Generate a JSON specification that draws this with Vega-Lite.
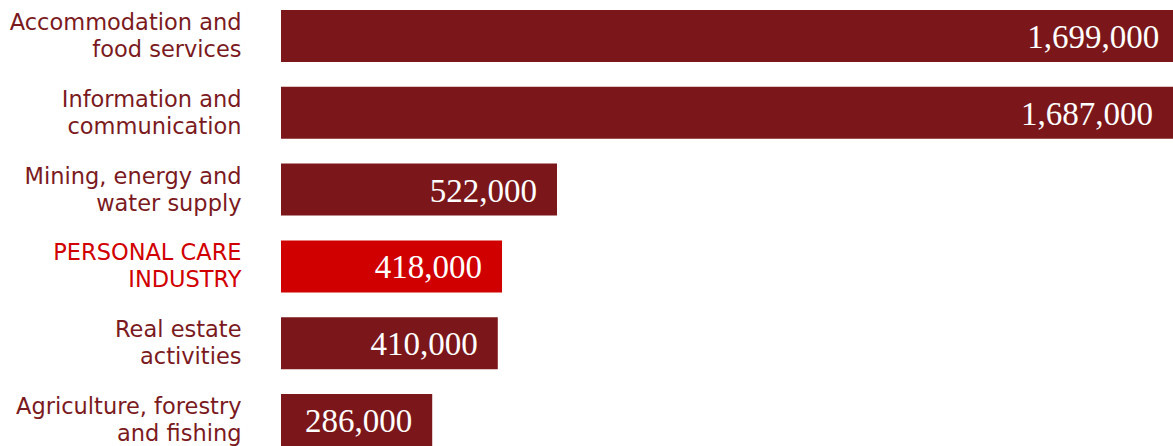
{
  "$schema": "https://vega.github.io/schema/vega-lite/v6.json",
  "autosize": "none",
  "width": 892,
  "height": 436,
  "padding": {"left": 281, "top": 10, "right": 0, "bottom": 0},
  "background": "white",
  "data": {
    "values": [
      {"sector": "Accommodation and|food services", "value": 1699000, "highlight": false},
      {"sector": "Information and|communication", "value": 1687000, "highlight": false},
      {"sector": "Mining, energy and|water supply", "value": 522000, "highlight": false},
      {"sector": "PERSONAL CARE|INDUSTRY", "value": 418000, "highlight": true},
      {"sector": "Real estate|activities", "value": 410000, "highlight": false},
      {"sector": "Agriculture, forestry|and fishing", "value": 286000, "highlight": false}
    ]
  },
  "encoding": {
    "y": {
      "field": "sector",
      "type": "nominal",
      "sort": null,
      "scale": {"paddingInner": 0.323, "paddingOuter": 0},
      "axis": {
        "title": null,
        "domain": false,
        "ticks": false,
        "labelPadding": 40,
        "labelFont": "DejaVu Sans",
        "labelFontSize": 22.5,
        "labelLineHeight": 27,
        "labelOffset": -13,
        "labelLimit": 400,
        "labelExpr": "split(datum.label, '|')",
        "labelColor": {
          "condition": {"test": "indexof(datum.value, 'PERSONAL') == 0", "value": "#d10000"},
          "value": "#7b1a1e"
        }
      }
    },
    "x": {
      "field": "value",
      "type": "quantitative",
      "scale": {"domain": [0, 1687000], "nice": false, "clamp": false},
      "axis": null
    }
  },
  "layer": [
    {
      "mark": {"type": "bar", "clip": true},
      "encoding": {
        "color": {
          "field": "highlight",
          "type": "nominal",
          "scale": {"domain": [false, true], "range": ["#7b171a", "#d10000"]},
          "legend": null
        }
      }
    },
    {
      "mark": {
        "type": "text",
        "align": "right",
        "baseline": "middle",
        "dx": -20,
        "dy": 2,
        "font": "Liberation Serif",
        "fontSize": 33,
        "color": "white"
      },
      "encoding": {
        "text": {"field": "value", "type": "quantitative", "format": ","}
      }
    }
  ],
  "config": {"view": {"stroke": null}}
}
